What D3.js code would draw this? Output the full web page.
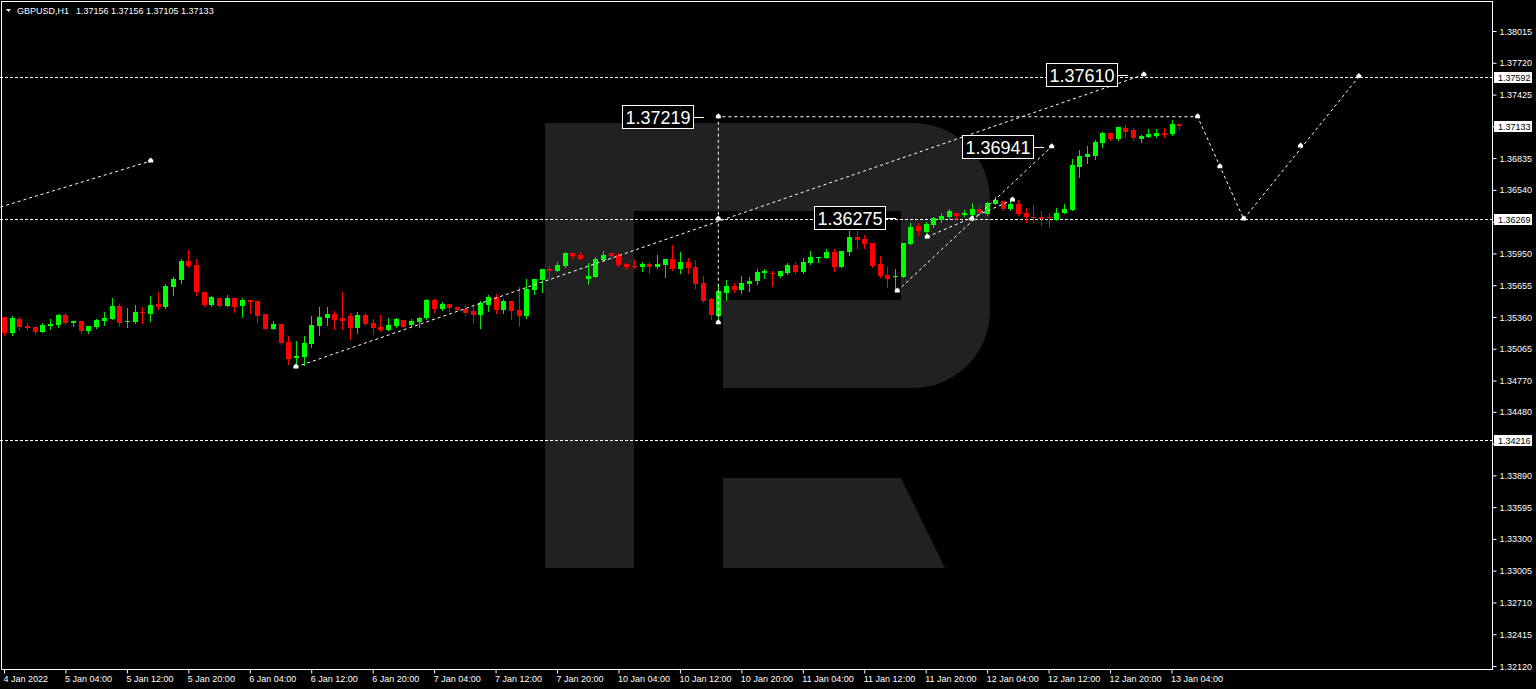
<!DOCTYPE html>
<html>
<head>
<meta charset="utf-8">
<script src="https://cdn.jsdelivr.net/npm/d3@7"></script>
<style>
  body { margin: 0; background: #000; overflow: hidden; }
  text { font-family: "Liberation Sans", Arial, sans-serif; }
</style>
</head>
<body>
<svg id="chart"></svg>
<script>
// Chart size
var svgWidth = 1536;
var svgHeight = 689;
var plotRight = 1492;
var plotBottom = 669;

// GBPUSD H1 bars, 4 Jan 20:00 .. 13 Jan 05:00
var opens = [
  1.35357,1.35209,1.35344,1.35276,1.35264,1.35221,1.35276,1.35286,1.35379,1.35307,
  1.35320,1.35233,1.35267,1.35320,1.35344,1.35462,1.35311,1.35311,1.35409,1.35390,
  1.35481,1.35453,1.35636,1.35707,1.35880,1.35846,1.35595,1.35472,1.35534,1.35465,
  1.35534,1.35465,1.35518,1.35509,1.35385,1.35246,1.35295,1.35131,1.34979,1.34989,
  1.35107,1.35279,1.35354,1.35390,1.35348,1.35372,1.35258,1.35382,1.35304,1.35267,
  1.35240,1.35276,1.35329,1.35286,1.35311,1.35348,1.35518,1.35434,1.35481,1.35453,
  1.35434,1.35416,1.35379,1.35472,1.35543,1.35425,1.35509,1.35425,1.35370,1.35611,
  1.35704,1.35809,1.35785,1.35834,1.35951,1.35938,1.35716,1.35735,1.35889,1.35951,
  1.35936,1.35852,1.35834,1.35827,1.35852,1.35827,1.35840,1.35899,1.35806,1.35871,
  1.35821,1.35673,1.35527,1.35370,1.35586,1.35651,1.35611,1.35667,1.35694,1.35766,
  1.35772,1.35744,1.35772,1.35843,1.35781,1.35859,1.35911,1.35911,1.35967,1.35827,
  1.35964,1.36106,1.36084,1.36044,1.35849,1.35750,1.35729,1.35735,1.36035,1.36208,
  1.36152,1.36214,1.36261,1.36286,1.36329,1.36304,1.36304,1.36366,1.36314,1.36409,
  1.36440,1.36360,1.36409,1.36329,1.36292,1.36292,1.36286,1.36261,1.36323,1.36354,
  1.36756,1.36849,1.36858,1.36978,1.37071,1.37010,1.37112,1.37096,1.37010,1.37034,
  1.37041,1.37071,1.37056,1.37156
];
var highs = [
  1.35363,1.35366,1.35363,1.35304,1.35264,1.35304,1.35344,1.35390,1.35397,1.35320,
  1.35320,1.35274,1.35344,1.35407,1.35534,1.35481,1.35444,1.35472,1.35453,1.35555,
  1.35595,1.35667,1.35732,1.35899,1.35982,1.35899,1.35595,1.35558,1.35534,1.35562,
  1.35534,1.35537,1.35518,1.35509,1.35385,1.35320,1.35295,1.35184,1.35137,1.35184,
  1.35372,1.35450,1.35450,1.35416,1.35590,1.35400,1.35407,1.35397,1.35339,1.35379,
  1.35348,1.35348,1.35329,1.35344,1.35363,1.35525,1.35527,1.35499,1.35481,1.35453,
  1.35474,1.35456,1.35506,1.35562,1.35571,1.35527,1.35509,1.35636,1.35713,1.35713,
  1.35809,1.35831,1.35868,1.35964,1.35951,1.35964,1.35859,1.35920,1.35973,1.35951,
  1.35957,1.35859,1.35889,1.35871,1.35871,1.35936,1.35899,1.36028,1.35964,1.35905,
  1.35889,1.35741,1.35534,1.35664,1.35704,1.35673,1.35744,1.35729,1.35803,1.35803,
  1.35790,1.35790,1.35859,1.35874,1.35905,1.35976,1.35920,1.35992,1.35992,1.35973,
  1.36159,1.36159,1.36121,1.36044,1.35926,1.35822,1.35803,1.36044,1.36235,1.36230,
  1.36245,1.36291,1.36323,1.36360,1.36329,1.36354,1.36416,1.36400,1.36431,1.36471,
  1.36440,1.36462,1.36446,1.36369,1.36400,1.36348,1.36323,1.36369,1.36406,1.36824,
  1.36911,1.36948,1.37003,1.37080,1.37071,1.37127,1.37143,1.37112,1.37050,1.37103,
  1.37103,1.37112,1.37189,1.37156
];
var lows = [
  1.35194,1.35194,1.35240,1.35240,1.35212,1.35221,1.35251,1.35267,1.35295,1.35276,
  1.35212,1.35215,1.35258,1.35286,1.35339,1.35279,1.35267,1.35301,1.35304,1.35323,
  1.35434,1.35447,1.35562,1.35679,1.35827,1.35565,1.35465,1.35465,1.35465,1.35465,
  1.35409,1.35363,1.35400,1.35314,1.35249,1.35246,1.35113,1.34927,1.34896,1.34915,
  1.35079,1.35196,1.35283,1.35249,1.35249,1.35153,1.35215,1.35286,1.35200,1.35228,
  1.35240,1.35264,1.35270,1.35273,1.35270,1.35342,1.35409,1.35425,1.35416,1.35416,
  1.35376,1.35301,1.35258,1.35419,1.35394,1.35397,1.35344,1.35276,1.35348,1.35574,
  1.35590,1.35713,1.35785,1.35827,1.35905,1.35895,1.35670,1.35735,1.35883,1.35895,
  1.35834,1.35803,1.35812,1.35790,1.35766,1.35812,1.35735,1.35797,1.35766,1.35772,
  1.35627,1.35502,1.35339,1.35307,1.35518,1.35595,1.35586,1.35602,1.35667,1.35726,
  1.35648,1.35735,1.35760,1.35772,1.35766,1.35849,1.35874,1.35911,1.35787,1.35827,
  1.35936,1.35998,1.35998,1.35827,1.35735,1.35636,1.35602,1.35735,1.36035,1.36121,
  1.36096,1.36199,1.36245,1.36277,1.36267,1.36298,1.36261,1.36307,1.36307,1.36409,
  1.36354,1.36354,1.36307,1.36245,1.36245,1.36214,1.36199,1.36261,1.36323,1.36354,
  1.36663,1.36787,1.36827,1.36936,1.37003,1.37003,1.37034,1.37003,1.36982,1.37034,
  1.37028,1.37028,1.37050,1.37105
];
var closes = [
  1.35209,1.35348,1.35264,1.35261,1.35221,1.35286,1.35292,1.35379,1.35301,1.35320,
  1.35233,1.35274,1.35329,1.35354,1.35462,1.35304,1.35323,1.35407,1.35400,1.35472,
  1.35456,1.35648,1.35713,1.35880,1.35836,1.35590,1.35472,1.35546,1.35465,1.35534,
  1.35456,1.35518,1.35502,1.35367,1.35249,1.35295,1.35122,1.34970,1.34995,1.35116,
  1.35286,1.35363,1.35390,1.35329,1.35323,1.35261,1.35376,1.35295,1.35255,1.35240,
  1.35286,1.35339,1.35270,1.35320,1.35351,1.35518,1.35434,1.35481,1.35447,1.35425,
  1.35397,1.35379,1.35487,1.35543,1.35425,1.35509,1.35416,1.35370,1.35620,1.35713,
  1.35809,1.35785,1.35846,1.35957,1.35926,1.35901,1.35741,1.35901,1.35936,1.35926,
  1.35840,1.35821,1.35821,1.35849,1.35821,1.35849,1.35899,1.35803,1.35871,1.35812,
  1.35667,1.35512,1.35376,1.35602,1.35651,1.35611,1.35679,1.35697,1.35781,1.35790,
  1.35760,1.35790,1.35843,1.35781,1.35874,1.35920,1.35920,1.35967,1.35821,1.35973,
  1.36100,1.36075,1.36038,1.35836,1.35741,1.35713,1.35738,1.36044,1.36198,1.36159,
  1.36223,1.36276,1.36298,1.36344,1.36298,1.36323,1.36366,1.36323,1.36421,1.36446,
  1.36360,1.36409,1.36317,1.36286,1.36280,1.36273,1.36280,1.36323,1.36363,1.36771,
  1.36855,1.36871,1.36988,1.37071,1.37010,1.37121,1.37080,1.37019,1.37041,1.37059,
  1.37071,1.37053,1.37152,1.37133
];

// Axis labels
var priceTicks = ["1.38015","1.37720","1.37425","1.37130","1.36835","1.36540","1.36245",
  "1.35950","1.35655","1.35360","1.35065","1.34770","1.34480","1.34185","1.33890",
  "1.33595","1.33300","1.33005","1.32710","1.32415","1.32120"];
var timeTickBars = [0,8,16,24,32,40,48,56,64,72,80,88,96,104,112,120,128,136,144,152];
var timeTickLabels = ["4 Jan 2022","5 Jan 04:00","5 Jan 12:00","5 Jan 20:00","6 Jan 04:00",
  "6 Jan 12:00","6 Jan 20:00","7 Jan 04:00","7 Jan 12:00","7 Jan 20:00","10 Jan 04:00",
  "10 Jan 12:00","10 Jan 20:00","11 Jan 04:00","11 Jan 12:00","11 Jan 20:00",
  "12 Jan 04:00","12 Jan 12:00","12 Jan 20:00","13 Jan 04:00"];

// Analysis objects (bar index, price)
var levelLines = [1.37592, 1.36269, 1.34216];
var axisMarks = [1.37592, 1.37133, 1.36269, 1.34216];
var trendLines = [
  [[-0.46, 1.36381], [19.1, 1.36808]],
  [[38, 1.34896], [148.4, 1.37610]],
  [[93, 1.35307], [93, 1.37219], [155.4, 1.37219], [161.4, 1.36269], [176.4, 1.37592]],
  [[116.3, 1.35602], [136.4, 1.36941]],
  [[120.2, 1.36103], [131.3, 1.36446]]
];
var markerPoints = [
  [19.1, 1.36808], [38, 1.34896], [93, 1.37219], [93, 1.36269], [93, 1.35307],
  [148.4, 1.37610], [116.3, 1.35602], [136.4, 1.36941], [120.2, 1.36103],
  [126, 1.36269], [131.3, 1.36446], [155.4, 1.37219], [158.3, 1.36755],
  [161.4, 1.36269], [168.8, 1.36948], [176.4, 1.37592]
];
var priceLabels = ["1.37219", "1.36275", "1.36941", "1.37610"];
var priceLabelBars = [91.1, 116.1, 135.4, 146.4];

var header = ["GBPUSD,H1", "1.37156 1.37156 1.37105 1.37133"];

var svg = d3.select("#chart")
  .attr("width", svgWidth)
  .attr("height", svgHeight)
  .style("display", "block");

svg.append("rect")
  .attr("width", svgWidth)
  .attr("height", svgHeight)
  .attr("fill", "#000");

// Scales
var x = d3.scaleLinear().domain([0, 152]).range([4, 1171.5]);
var y = d3.scaleLinear().domain([1.32120, 1.38015]).range([666, 31]);

// Broker watermark
svg.append("path")
  .attr("fill", "#212121")
  .attr("d", "M545,123 H913 A77,77 0 0 1 990,200 V311 A77,77 0 0 1 913,388 H723 V300 H901 V211 H634 V568 H545 Z");
svg.append("path")
  .attr("fill", "#212121")
  .attr("d", "M723,478 H901 L945,568 H723 Z");

var plot = svg.append("g");

// Horizontal levels
plot.selectAll(".level")
  .data(levelLines)
  .enter()
  .append("line")
  .attr("x1", 0)
  .attr("x2", plotRight)
  .attr("y1", d => Math.round(y(d)) + 0.5)
  .attr("y2", d => Math.round(y(d)) + 0.5)
  .attr("stroke", "#fff")
  .attr("stroke-dasharray", "3,2");

// Candles
var bars = d3.range(opens.length).map(function(i) {
  return { i: i, o: opens[i], h: highs[i], l: lows[i], c: closes[i] };
});

var candle = plot.selectAll(".candle")
  .data(bars)
  .enter()
  .append("g")
  .attr("shape-rendering", "crispEdges");

candle.append("line")
  .attr("x1", d => Math.round(x(d.i)) + 0.5)
  .attr("x2", d => Math.round(x(d.i)) + 0.5)
  .attr("y1", d => Math.round(y(d.h)))
  .attr("y2", d => Math.round(y(d.l)) + 1)
  .attr("stroke", d => (d.c >= d.o ? "#00e800" : "#ff0000"));

candle.append("rect")
  .attr("x", d => Math.round(x(d.i)) - 2)
  .attr("width", 5)
  .attr("y", d => Math.round(y(Math.max(d.o, d.c))))
  .attr("height", d => Math.max(1, Math.round(y(Math.min(d.o, d.c))) - Math.round(y(Math.max(d.o, d.c)))))
  .attr("fill", d => (d.c >= d.o ? "#00ff00" : "#ff0000"));

// Trend lines
var line = d3.line()
  .x(d => x(d[0]))
  .y(d => y(d[1]));

plot.selectAll(".trend")
  .data(trendLines)
  .enter()
  .append("path")
  .attr("d", line)
  .attr("fill", "none")
  .attr("stroke", "#fff")
  .attr("stroke-width", 1)
  .attr("stroke-dasharray", "3,3");

plot.selectAll(".marker")
  .data(markerPoints)
  .enter()
  .append("path")
  .attr("transform", d => `translate(${x(d[0])},${y(d[1]) - 1})`)
  .attr("d", "M-2.5,2.5 V0 L0,-2.5 L2.5,0 V2.5 Z")
  .attr("fill", "#fff");

// Price labels with leader
var tag = plot.selectAll(".tag")
  .data(priceLabels)
  .enter()
  .append("g")
  .attr("transform", (d, i) => `translate(${Math.round(x(priceLabelBars[i]))},${Math.round(y(+d))})`);

tag.append("line")
  .attr("x1", -10)
  .attr("x2", 0)
  .attr("y1", 0.5)
  .attr("y2", 0.5)
  .attr("stroke", "#fff");

tag.append("rect")
  .attr("x", -81.5)
  .attr("y", -11.5)
  .attr("width", 71)
  .attr("height", 23)
  .attr("fill", "#000")
  .attr("stroke", "#fff");

tag.append("text")
  .attr("x", -46)
  .attr("y", 7)
  .attr("text-anchor", "middle")
  .attr("fill", "#fff")
  .style("font-size", "18px")
  .text(d => d);

// Frame
svg.append("path")
  .attr("d", `M1.5,${plotBottom + 0.5} V1.5 H${plotRight + 0.5} V${plotBottom + 0.5} Z`)
  .attr("fill", "none")
  .attr("stroke", "#fff")
  .attr("shape-rendering", "crispEdges");

// Right price axis (labels hidden under a level mark are skipped)
function coveredByMark(v) {
  return axisMarks.some(m => Math.abs(y(m) - y(v)) < 9);
}

var rightAxis = d3.axisRight(y)
  .tickValues(priceTicks.map(Number))
  .tickFormat((d, i) => (coveredByMark(d) ? "" : priceTicks[i]))
  .tickSize(4)
  .tickPadding(3);

var yAxis = svg.append("g")
  .attr("transform", `translate(${plotRight + 0.5},0)`)
  .call(rightAxis);
yAxis.select(".domain").remove();
yAxis.selectAll("line").attr("stroke", "#fff");
yAxis.selectAll("text")
  .attr("fill", "#fff")
  .style("font-size", "9px")
  .attr("dy", "0.34em");

// Current / level marks on the axis
var mark = svg.selectAll(".axismark")
  .data(axisMarks)
  .enter()
  .append("g")
  .attr("transform", d => `translate(${plotRight + 2},${Math.round(y(d))})`);

mark.append("rect")
  .attr("x", 0)
  .attr("y", -5)
  .attr("width", 38)
  .attr("height", 11)
  .attr("fill", "#fff");

mark.append("text")
  .attr("x", 4)
  .attr("y", 4)
  .attr("fill", "#000")
  .style("font-size", "9px")
  .text(d => d.toFixed(5));

// Bottom time axis
var bottomAxis = d3.axisBottom(x)
  .tickValues(timeTickBars)
  .tickFormat((d, i) => timeTickLabels[i])
  .tickSize(4)
  .tickPadding(2);

var xAxis = svg.append("g")
  .attr("transform", `translate(0,${plotBottom + 0.5})`)
  .call(bottomAxis);
xAxis.select(".domain").remove();
xAxis.selectAll("line").attr("stroke", "#fff");
xAxis.selectAll("text")
  .attr("fill", "#fff")
  .attr("text-anchor", "start")
  .attr("dx", -1)
  .style("font-size", "9px");

// Header
svg.append("path")
  .attr("d", "M6,9 H11 L8.5,12 Z")
  .attr("fill", "#fff");

svg.append("text")
  .attr("x", 17)
  .attr("y", 14)
  .attr("fill", "#fff")
  .style("font-size", "9px")
  .text(header[0]);

svg.append("text")
  .attr("x", 76)
  .attr("y", 14)
  .attr("fill", "#fff")
  .style("font-size", "9px")
  .text(header[1]);
</script>
</body>
</html>
